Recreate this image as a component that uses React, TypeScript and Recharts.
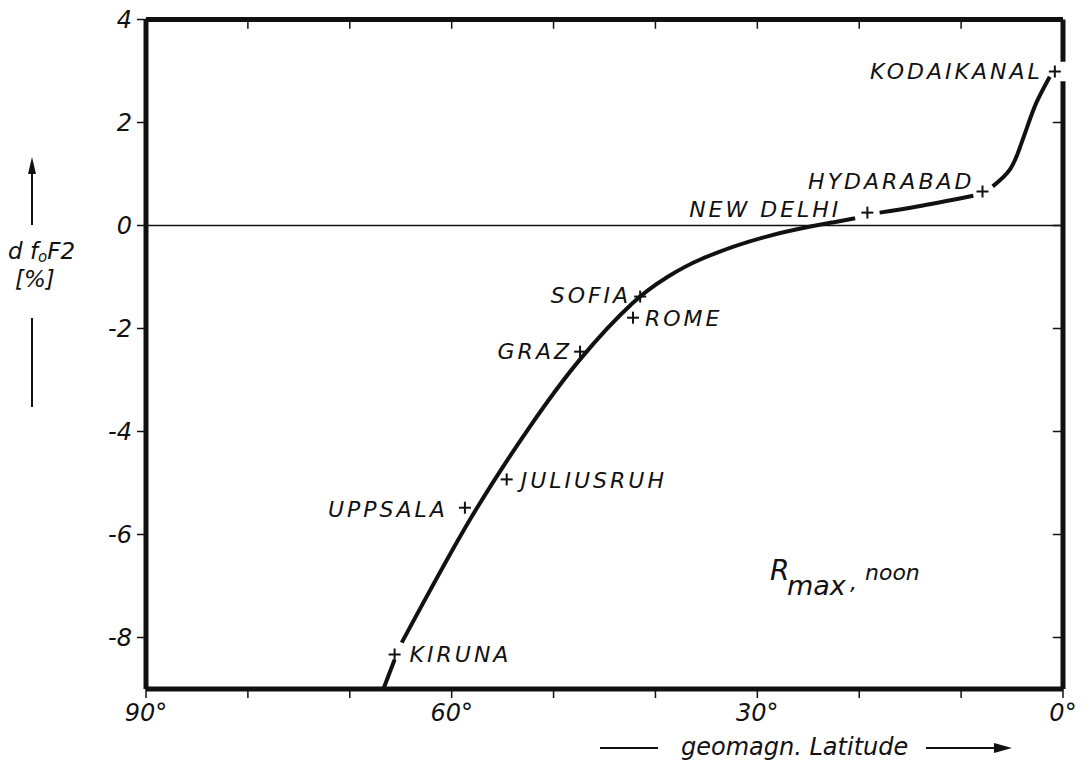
import { ComposedChart, Line, Scatter, XAxis, YAxis, ReferenceLine } from 'recharts';

// d foF2 curve (percent) vs geomagnetic latitude.
// The pen lifts near some of the station marks, so the curve is kept in pieces.
const curveKiruna = [
  { lat: 66.7, df: -9.0 },
  { lat: 65.6, df: -8.43 },
];
const curveMain = [
  { lat: 64.9, df: -8.1 },
  { lat: 58.2, df: -5.71 },
  { lat: 52.3, df: -3.9 },
  { lat: 47.4, df: -2.6 },
  { lat: 42.2, df: -1.5 },
  { lat: 38.9, df: -1.01 },
  { lat: 35.6, df: -0.66 },
  { lat: 29.0, df: -0.21 },
  { lat: 22.6, df: 0.06 },
  { lat: 20.4, df: 0.14 },
];
const curveDelhi = [
  { lat: 18.0, df: 0.25 },
  { lat: 14.3, df: 0.37 },
  { lat: 8.8, df: 0.58 },
];
const curveIndia = [
  { lat: 6.9, df: 0.76 },
  { lat: 5.2, df: 1.09 },
  { lat: 4.2, df: 1.53 },
  { lat: 3.5, df: 1.92 },
  { lat: 2.6, df: 2.39 },
  { lat: 1.3, df: 2.89 },
];

// stations
const stationNames = ['KODAIKANAL', 'HYDARABAD', 'NEW DELHI', 'SOFIA', 'ROME', 'GRAZ', 'JULIUSRUH', 'UPPSALA', 'KIRUNA'];
const stationLat = [0.8, 7.9, 19.2, 41.5, 42.2, 47.4, 54.6, 58.7, 65.6];
const stationDf = [2.99, 0.66, 0.25, -1.38, -1.79, -2.45, -4.93, -5.48, -8.33];

const latTicks = [90, 80, 70, 60, 50, 40, 30, 20, 10, 0];
const latLabelTicks = [90, 60, 30, 0];
const dfTicks = [4, 2, 0, -2, -4, -6, -8];

const stations = stationNames.map((name, i) => ({ name, lat: stationLat[i], df: stationDf[i] }));

// where each name sits relative to its "+"
const labelPos: Record<string, { dx: number; dy: number; anchor: 'start' | 'end' }> = {
  KODAIKANAL: { dx: -12, dy: 7, anchor: 'end' },
  HYDARABAD: { dx: -8, dy: -3, anchor: 'end' },
  'NEW DELHI': { dx: -26, dy: 4, anchor: 'end' },
  SOFIA: { dx: -9, dy: 6, anchor: 'end' },
  ROME: { dx: 12, dy: 8, anchor: 'start' },
  GRAZ: { dx: -8, dy: 7, anchor: 'end' },
  JULIUSRUH: { dx: 14, dy: 9, anchor: 'start' },
  UPPSALA: { dx: -17, dy: 9, anchor: 'end' },
  KIRUNA: { dx: 15, dy: 8, anchor: 'start' },
};

const FONT = '"DejaVu Sans", sans-serif';
const INK = '#111';

const StationMark = (props: any) => {
  const { cx, cy, payload } = props;
  const p = labelPos[payload.name];
  return (
    <g>
      <line x1={cx - 6} x2={cx + 6} y1={cy} y2={cy} stroke={INK} strokeWidth={2} />
      <line x1={cx} x2={cx} y1={cy - 6} y2={cy + 6} stroke={INK} strokeWidth={2} />
      <text
        x={cx + p.dx}
        y={cy + p.dy}
        textAnchor={p.anchor}
        fontFamily={FONT}
        fontStyle="italic"
        fontSize={22}
        letterSpacing={3}
        fill={INK}
      >
        {payload.name}
      </text>
    </g>
  );
};

const frame = { stroke: INK, strokeWidth: 5 };
const tickStyle = { fill: INK, fontFamily: FONT, fontStyle: 'italic', fontSize: 24 };

export default function App() {
  return (
    <div style={{ position: 'relative', width: 1081, height: 758, background: '#fff' }}>
      <ComposedChart
        width={1081}
        height={758}
        margin={{ top: 11.5, right: 26, bottom: 37, left: 78 }}
      >
        <XAxis
          dataKey="lat"
          type="number"
          domain={[0, 90]}
          reversed
          ticks={latTicks}
          tickFormatter={(v: number) => (latLabelTicks.includes(v) ? `${v}°` : '')}
          axisLine={false}
          tickLine={{ stroke: INK, strokeWidth: 1.5 }}
          tickSize={9}
          tickMargin={6}
          tick={tickStyle}
          height={40}
          interval={0}
        />
        <YAxis
          dataKey="df"
          type="number"
          domain={[-9, 4]}
          ticks={dfTicks}
          axisLine={false}
          tickLine={{ stroke: INK, strokeWidth: 1.5 }}
          tickSize={9}
          tickMargin={5}
          tick={tickStyle}
          width={60}
          interval={0}
        />

        <ReferenceLine y={0} stroke={INK} strokeWidth={1.5} />

        {/* inner ticks on the top and right edges */}
        {latTicks.slice(1, -1).map((t) => (
          <ReferenceLine key={'tt' + t} segment={[{ x: t, y: 4 }, { x: t, y: 3.82 }]} stroke={INK} strokeWidth={1.5} />
        ))}
        {dfTicks.slice(1).map((t) => (
          <ReferenceLine key={'rt' + t} segment={[{ x: 0, y: t }, { x: 1, y: t }]} stroke={INK} strokeWidth={1.5} />
        ))}

        {/* heavy frame, right edge broken at Kodaikanal */}
        <ReferenceLine segment={[{ x: 90, y: 4 }, { x: 0, y: 4 }]} {...frame} />
        <ReferenceLine segment={[{ x: 90, y: -9 }, { x: 0, y: -9 }]} {...frame} />
        <ReferenceLine segment={[{ x: 90, y: 4 }, { x: 90, y: -9 }]} {...frame} />
        <ReferenceLine segment={[{ x: 0, y: 4 }, { x: 0, y: 3.18 }]} {...frame} />
        <ReferenceLine segment={[{ x: 0, y: 2.8 }, { x: 0, y: -9 }]} {...frame} />

        <Line data={curveKiruna} dataKey="df" type="linear" stroke={INK} strokeWidth={4} dot={false} isAnimationActive={false} />
        <Line data={curveMain} dataKey="df" type="natural" stroke={INK} strokeWidth={4} dot={false} isAnimationActive={false} />
        <Line data={curveDelhi} dataKey="df" type="natural" stroke={INK} strokeWidth={4} dot={false} isAnimationActive={false} />
        <Line data={curveIndia} dataKey="df" type="natural" stroke={INK} strokeWidth={4} dot={false} isAnimationActive={false} />

        <Scatter data={stations} dataKey="df" shape={StationMark} isAnimationActive={false} />
      </ComposedChart>

      {/* axis titles and annotation */}
      <svg
        width={1081}
        height={758}
        style={{ position: 'absolute', left: 0, top: 0, pointerEvents: 'none' }}
        fontFamily={FONT}
        fontStyle="italic"
        fill={INK}
      >
        <line x1={24} x2={24} y1={217} y2={162} stroke={INK} strokeWidth={2} />
        <polygon points="24,149 20,166 28,166" fill={INK} />
        <text x={0} y={251} fontSize={23}>
          d f<tspan fontSize={15} dy={3}>o</tspan>
          <tspan dy={-3}>F2</tspan>
        </text>
        <text x={7} y={279} fontSize={23}>[%]</text>
        <line x1={24} x2={24} y1={310} y2={399} stroke={INK} strokeWidth={2} />

        <line x1={592} x2={650} y1={740} y2={740} stroke={INK} strokeWidth={2} />
        <text x={673} y={747} fontSize={24}>geomagn. Latitude</text>
        <line x1={918} x2={990} y1={740} y2={740} stroke={INK} strokeWidth={2} />
        <polygon points="1004,740 986,735 986,745" fill={INK} />

        <text x={762} y={572} fontSize={28}>R</text>
        <text x={779} y={587} fontSize={27}>max</text>
        <text x={842} y={582} fontSize={22}>,</text>
        <text x={857} y={572} fontSize={22}>noon</text>
      </svg>
    </div>
  );
}
